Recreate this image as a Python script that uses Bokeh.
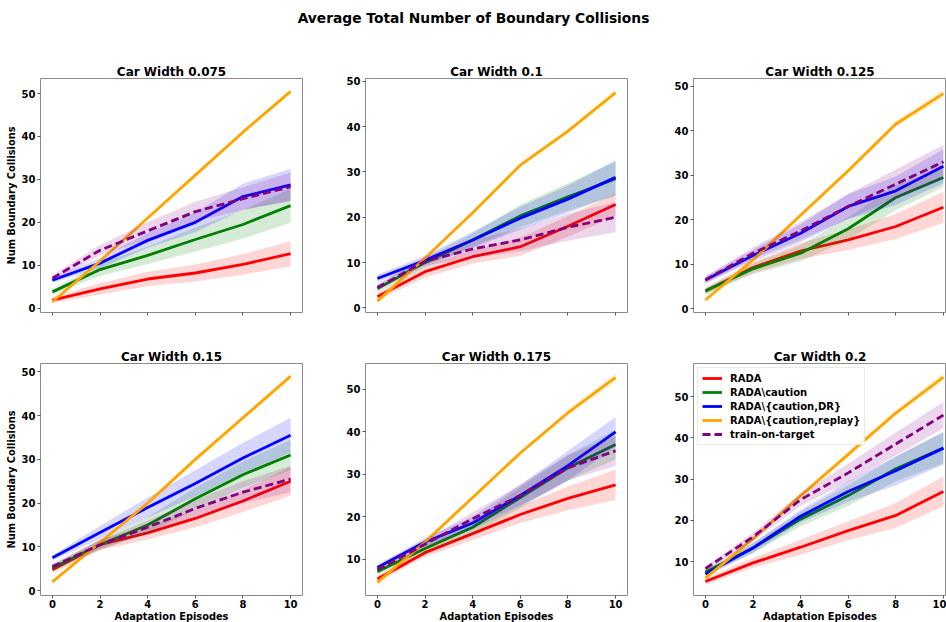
from bokeh.plotting import figure
from bokeh.layouts import column, row
from bokeh.models import Range1d, FixedTicker, CustomLabelingPolicy
from bokeh.embed import file_html
from bokeh.resources import INLINE

# ---------------- data ----------------
EPISODES = [0, 2, 4, 6, 8, 10]
CAR_WIDTHS = ["0.075", "0.1", "0.125", "0.15", "0.175", "0.2"]
SERIES_NAMES = ["RADA", r"RADA\caution", r"RADA\{caution,DR}",
                r"RADA\{caution,replay}", "train-on-target"]
Y_TICKS = [0, 10, 20, 30, 40, 50]

RADA_MEAN = [
    [1.9, 4.5, 6.8, 8.2, 10.2, 12.7],
    [2.5, 8.0, 11.3, 13.5, 18.0, 22.8],
    [4.0, 9.3, 13.0, 15.5, 18.5, 22.8],
    [4.8, 10.5, 13.2, 16.5, 20.5, 25.0],
    [5.3, 11.5, 16.0, 20.5, 24.3, 27.5],
    [5.2, 9.7, 13.5, 17.5, 21.2, 27.0],
]
RADA_SD = [
    [0.7, 1.3, 1.7, 2.0, 2.4, 2.9],
    [0.8, 1.3, 1.5, 2.0, 2.3, 2.5],
    [0.7, 1.2, 1.8, 2.3, 2.8, 3.5],
    [0.8, 1.2, 1.5, 2.0, 2.5, 3.3],
    [0.8, 1.0, 1.5, 2.0, 2.8, 3.6],
    [0.8, 1.2, 1.8, 2.3, 3.0, 3.6],
]
CAUTION_MEAN = [
    [3.8, 9.0, 12.3, 16.0, 19.5, 23.9],
    [4.3, 10.0, 15.0, 20.3, 24.5, 28.5],
    [4.0, 9.0, 12.5, 18.0, 25.0, 29.5],
    [5.2, 10.5, 15.0, 21.0, 26.5, 31.0],
    [7.0, 12.5, 17.5, 24.5, 31.5, 37.0],
    [7.5, 13.3, 20.3, 26.0, 32.5, 37.5],
]
CAUTION_SD = [
    [0.6, 1.5, 2.0, 2.8, 3.3, 4.0],
    [0.8, 1.0, 1.5, 2.5, 3.0, 3.8],
    [0.7, 1.2, 1.8, 2.5, 2.8, 2.2],
    [0.7, 1.2, 1.8, 2.5, 3.0, 3.5],
    [0.6, 1.0, 1.5, 2.5, 3.0, 3.5],
    [0.6, 1.2, 1.8, 2.5, 3.0, 3.7],
]
DR_MEAN = [
    [6.5, 10.5, 15.8, 20.0, 26.0, 28.7],
    [6.5, 10.5, 15.0, 19.8, 24.0, 28.8],
    [6.5, 12.0, 17.0, 23.0, 26.5, 32.0],
    [7.5, 13.3, 19.0, 24.5, 30.3, 35.5],
    [8.0, 14.0, 18.5, 25.0, 32.0, 40.0],
    [7.0, 13.3, 21.0, 27.0, 32.0, 37.5],
]
DR_SD = [
    [0.6, 1.2, 1.7, 2.3, 3.0, 3.8],
    [0.8, 1.0, 1.8, 2.5, 3.0, 3.8],
    [0.8, 1.3, 2.0, 2.8, 3.2, 3.8],
    [0.6, 1.5, 2.3, 3.0, 3.5, 4.0],
    [0.6, 1.0, 1.5, 2.5, 3.5, 3.5],
    [0.6, 1.2, 1.5, 2.5, 3.5, 4.0],
]
REPLAY_MEAN = [
    [1.5, 11.0, 21.0, 31.0, 41.0, 50.5],
    [1.5, 11.0, 21.0, 31.5, 39.0, 47.5],
    [2.0, 11.0, 21.0, 31.0, 41.5, 48.3],
    [2.0, 11.0, 20.0, 30.0, 39.5, 49.0],
    [4.5, 14.0, 24.5, 35.0, 44.5, 52.8],
    [6.0, 15.5, 26.0, 36.0, 46.0, 54.7],
]
REPLAY_SD = [
    [0.3, 0.3, 0.4, 0.4, 0.4, 0.5],
    [0.3, 0.3, 0.4, 0.5, 0.5, 0.6],
    [0.4, 0.4, 0.5, 0.6, 0.7, 1.0],
    [0.3, 0.4, 0.4, 0.5, 0.6, 0.7],
    [0.5, 0.5, 0.5, 0.5, 0.7, 1.0],
    [0.5, 0.5, 0.5, 0.7, 0.8, 1.0],
]
TARGET_MEAN = [
    [7.0, 13.5, 18.0, 22.5, 25.5, 28.3],
    [4.5, 10.3, 13.0, 15.0, 17.8, 20.0],
    [6.5, 12.5, 17.5, 23.0, 28.0, 33.0],
    [5.5, 10.5, 14.5, 18.8, 22.5, 25.5],
    [7.5, 13.5, 19.5, 25.0, 31.5, 35.5],
    [8.3, 16.0, 25.0, 31.5, 38.5, 45.5],
]
TARGET_SD = [
    [0.7, 1.2, 2.0, 2.3, 2.7, 3.3],
    [0.7, 1.0, 2.0, 2.5, 3.0, 3.3],
    [0.8, 1.3, 2.0, 2.8, 3.3, 3.8],
    [0.7, 1.0, 1.5, 2.0, 2.5, 3.0],
    [0.6, 1.0, 1.5, 2.5, 3.0, 3.5],
    [0.6, 1.0, 1.5, 2.2, 2.8, 3.2],
]

Y_LIMITS = [(-1.0, 53.5), (-1.0, 50.6), (-0.8, 51.7),
            (-1.1, 51.9), (1.4, 56.1), (1.8, 58.0)]

MEANS = [RADA_MEAN, CAUTION_MEAN, DR_MEAN, REPLAY_MEAN, TARGET_MEAN]
SDS = [RADA_SD, CAUTION_SD, DR_SD, REPLAY_SD, TARGET_SD]
COLORS = ["#ff0000", "#008000", "#0000ff", "#ffa500", "#800080"]
DASHES = ["solid", "solid", "solid", "solid", "8 4"]

FONT = "DejaVu Sans"
INK = "#000000"

HIDE_LABELS = CustomLabelingPolicy(code="""
for (const i of Array.from(indices))
  indices.unset(i)
""")


def make_panel(i):
    col = i % 3
    r = i // 3
    left = [40, 30, 30][col]
    right = [33, 36, 0][col]
    fw = [262, 262, 253][col]
    top = 38 if r == 0 else 26
    bottom = 25 if r == 0 else 27
    fh = 234 if r == 0 else 232
    x_end = 10.5 if col < 2 else 10.13
    lo, hi = Y_LIMITS[i]
    p = figure(frame_width=fw, frame_height=fh,
               min_border_left=left, min_border_right=right,
               min_border_top=top, min_border_bottom=bottom,
               x_range=Range1d(-0.5, x_end), y_range=Range1d(lo, hi),
               output_backend="svg", toolbar_location=None,
               title="Car Width " + CAR_WIDTHS[i])
    p.title.align = "center"
    p.title.text_font = FONT
    p.title.text_font_style = "bold"
    p.title.text_font_size = "12px"
    p.title.text_color = INK
    p.title.standoff = 0
    p.outline_line_color = "#8a8a8a"
    p.outline_line_width = 1
    p.grid.visible = False

    p.xaxis.ticker = FixedTicker(ticks=EPISODES)
    p.yaxis.ticker = FixedTicker(ticks=Y_TICKS)
    for ax in p.axis:
        ax.axis_line_color = None
        ax.major_tick_line_color = "#555555"
        ax.major_tick_out = 3
        ax.major_tick_in = 0
        ax.minor_tick_line_color = None
        ax.major_label_text_font = FONT
        ax.major_label_text_font_style = "bold"
        ax.major_label_text_font_size = "10px"
        ax.major_label_text_color = INK
        ax.axis_label_text_font = FONT
        ax.axis_label_text_font_style = "bold"
        ax.axis_label_text_font_size = "9.8px"
        ax.axis_label_text_color = INK
    p.yaxis.major_label_standoff = 2
    p.yaxis.axis_label_standoff = 2
    p.xaxis.major_label_standoff = 1
    p.xaxis.axis_label_standoff = 0
    if r == 0:
        p.xaxis.major_label_policy = HIDE_LABELS
    else:
        p.xaxis.axis_label = "Adaptation Episodes"
    if col == 0:
        p.yaxis.axis_label = "Num Boundary Collisions"

    for k in range(5):
        m = MEANS[k][i]
        s = SDS[k][i]
        lower = [a - b for a, b in zip(m, s)]
        upper = [a + b for a, b in zip(m, s)]
        kw = {}
        if i == 5:
            kw["legend_label"] = SERIES_NAMES[k]
        p.line(EPISODES, m, line_color=COLORS[k], line_width=2.8,
               line_dash=DASHES[k], **kw)
        p.varea(x=EPISODES, y1=lower, y2=upper, fill_color=COLORS[k],
                fill_alpha=0.16)

    if i == 5:
        lg = p.legend[0]
        lg.location = "top_left"
        lg.label_text_font = FONT
        lg.label_text_font_style = "bold"
        lg.label_text_font_size = "10px"
        lg.label_text_color = INK
        lg.glyph_width = 20
        lg.glyph_height = 12
        lg.label_height = 12
        lg.label_standoff = 8
        lg.spacing = 2
        lg.padding = 4
        lg.margin = 4
        lg.border_line_color = "#d6d6d6"
        lg.background_fill_alpha = 0.85
    return p


header = figure(width=946, height=40, output_backend="svg",
                toolbar_location=None, x_axis_location=None,
                y_axis_location=None, min_border=0, min_border_top=26,
                x_range=Range1d(0, 1), y_range=Range1d(0, 1),
                title="Average Total Number of Boundary Collisions")
header.title.align = "center"
header.title.text_font = FONT
header.title.text_font_style = "bold"
header.title.text_font_size = "13.8px"
header.title.text_color = INK
header.title.standoff = 2
header.outline_line_color = None
header.grid.visible = False

panels = [make_panel(i) for i in range(6)]
layout = column(header, row(*panels[:3]), row(*panels[3:]))

open("out.html", "w").write(file_html(layout, INLINE))
